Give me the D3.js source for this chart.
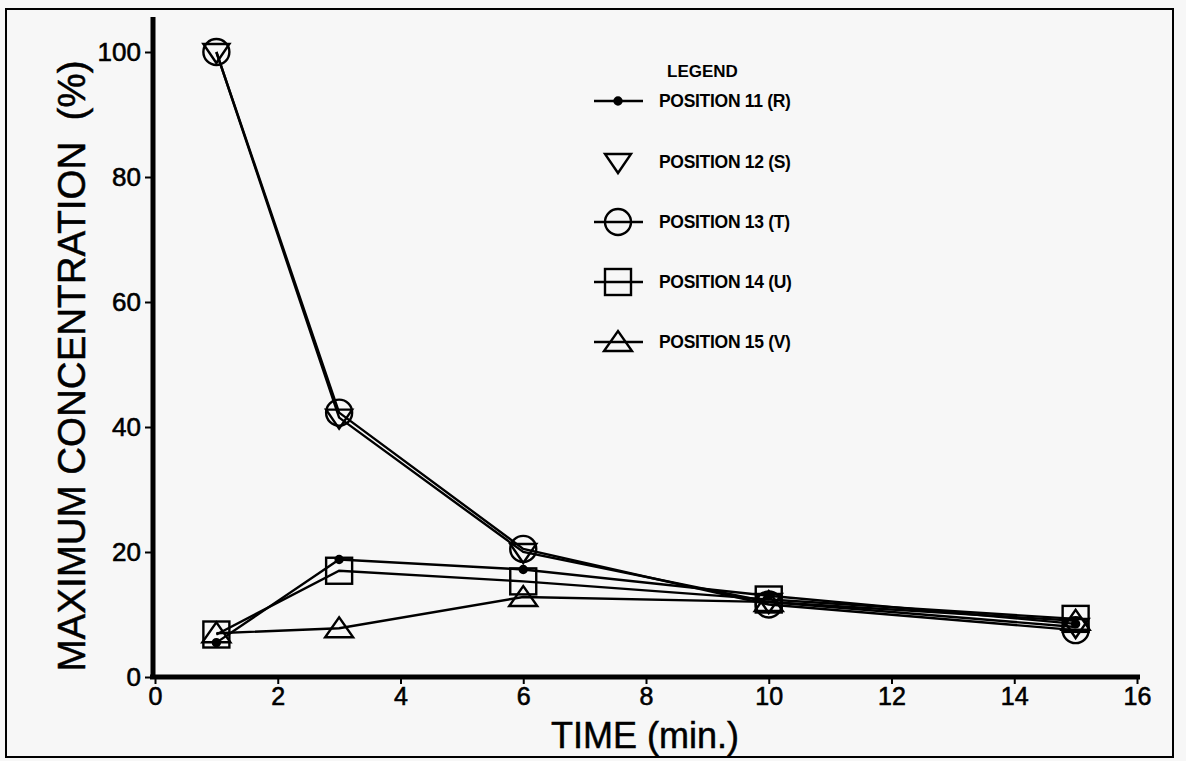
<!DOCTYPE html>
<html><head><meta charset="utf-8">
<script src="https://cdn.jsdelivr.net/npm/d3@7"></script>
<style>body{margin:0;background:#f7f7f7;} svg{display:block;}</style>
</head><body>
<svg id="c" width="1186" height="761"></svg>
<script>
const times = [1, 3, 6, 10, 15];
const pos11R = [5.5, 18.8, 17.2, 13.0, 8.5];
const pos12S = [100, 41.5, 20.0, 12.0, 8.0];
const pos13T = [100, 42.3, 20.5, 11.6, 7.5];
const pos14U = [6.8, 17.0, 15.3, 12.4, 9.3];
const pos15V = [7.0, 7.8, 12.8, 12.0, 9.0];
const xTicks = [0, 2, 4, 6, 8, 10, 12, 14, 16];
const yTicks = [0, 20, 40, 60, 80, 100];
const seriesNames = ["POSITION 11 (R)", "POSITION 12 (S)", "POSITION 13 (T)", "POSITION 14 (U)", "POSITION 15 (V)"];
const seriesMarkers = ["dot", "tridown", "circle", "square", "triup"];
const seriesValues = [pos11R, pos12S, pos13T, pos14U, pos15V];

const svg = d3.select("#c");
const font = "'Liberation Sans', Arial, sans-serif";
const x = d3.scaleLinear().domain([0, 16]).range([155, 1137]);
const y = d3.scaleLinear().domain([0, 100]).range([677, 52]);

// frame
svg.append("rect").attr("x", 6).attr("y", 9).attr("width", 1167).attr("height", 748)
  .attr("fill", "none").attr("stroke", "#000").attr("stroke-width", 2);

// axes
const xAxis = svg.append("g").attr("transform", `translate(0,${y(0)})`)
  .call(d3.axisBottom(x).tickValues(xTicks).tickSize(7).tickSizeOuter(0).tickPadding(3));
xAxis.select(".domain").remove();
xAxis.selectAll("line").attr("stroke-width", 2);
xAxis.selectAll("text").attr("font-family", font).attr("font-size", 25).attr("fill", "#000")
  .attr("stroke", "#000").attr("stroke-width", 0.6);
svg.append("line").attr("x1", 150).attr("x2", 1140).attr("y1", y(0)).attr("y2", y(0))
  .attr("stroke", "#000").attr("stroke-width", 5);

const yAxis = svg.append("g").attr("transform", `translate(${x(0) - 3},0)`)
  .call(d3.axisLeft(y).tickValues(yTicks).tickSize(7).tickSizeOuter(0).tickPadding(4));
yAxis.select(".domain").remove();
yAxis.selectAll("line").attr("stroke-width", 2);
yAxis.selectAll("text").attr("font-family", font).attr("font-size", 26).attr("fill", "#000")
  .attr("stroke", "#000").attr("stroke-width", 0.6);
svg.append("line").attr("x1", x(0) - 2).attr("x2", x(0) - 2).attr("y1", 17).attr("y2", y(0) + 2)
  .attr("stroke", "#000").attr("stroke-width", 5);

// titles
svg.append("text").attr("x", 645).attr("y", 748).attr("text-anchor", "middle")
  .attr("font-family", font).attr("font-size", 36).attr("stroke", "#000").attr("stroke-width", 0.5)
  .text("TIME (min.)");
svg.append("text").attr("transform", "translate(85,366) rotate(-90)").attr("text-anchor", "middle")
  .attr("font-family", font).attr("font-size", 38.5).attr("stroke", "#000").attr("stroke-width", 0.5)
  .attr("xml:space", "preserve").style("white-space", "pre")
  .text("MAXIMUM CONCENTRATION  (%)");

// marker drawing
function marker(g, type, cx, cy) {
  const s = g.append("g").attr("transform", `translate(${cx},${cy})`)
    .attr("fill", "none").attr("stroke", "#000").attr("stroke-width", 2.4);
  if (type === "dot") s.append("circle").attr("r", 3.5).attr("fill", "#000");
  if (type === "circle") s.append("circle").attr("r", 13);
  if (type === "square") s.append("rect").attr("x", -13).attr("y", -13).attr("width", 26).attr("height", 26);
  if (type === "triup") s.append("path").attr("d", "M-14,9 L14,9 L0,-11 Z");
  if (type === "tridown") s.append("path").attr("d", "M-13,-8 L13,-8 L0,11 Z");
}

const line = d3.line().x((d, i) => x(times[i])).y(d => y(d));
const plot = svg.append("g");
seriesValues.forEach((vals, k) => {
  plot.append("path").datum(vals).attr("d", line).attr("fill", "none")
    .attr("stroke", "#000").attr("stroke-width", 2.4);
});
seriesValues.forEach((vals, k) => {
  vals.forEach((v, i) => marker(plot, seriesMarkers[k], x(times[i]), y(v)));
});

// legend
svg.append("text").attr("x", 667).attr("y", 77).attr("font-family", font)
  .attr("font-weight", "bold").attr("font-size", 17).text("LEGEND");
const legRows = [101, 162, 222, 282, 342];
seriesNames.forEach((name, k) => {
  const ly = legRows[k];
  if (seriesMarkers[k] !== "tridown") {
    svg.append("line").attr("x1", 594).attr("x2", 643).attr("y1", ly).attr("y2", ly)
      .attr("stroke", "#000").attr("stroke-width", 2.4);
  }
  marker(svg, seriesMarkers[k], 618, ly);
  svg.append("text").attr("x", 659).attr("y", ly + 6).attr("font-family", font)
    .attr("font-weight", "bold").attr("font-size", 17.5).attr("letter-spacing", -0.3).text(name);
});
</script>
</body></html>
